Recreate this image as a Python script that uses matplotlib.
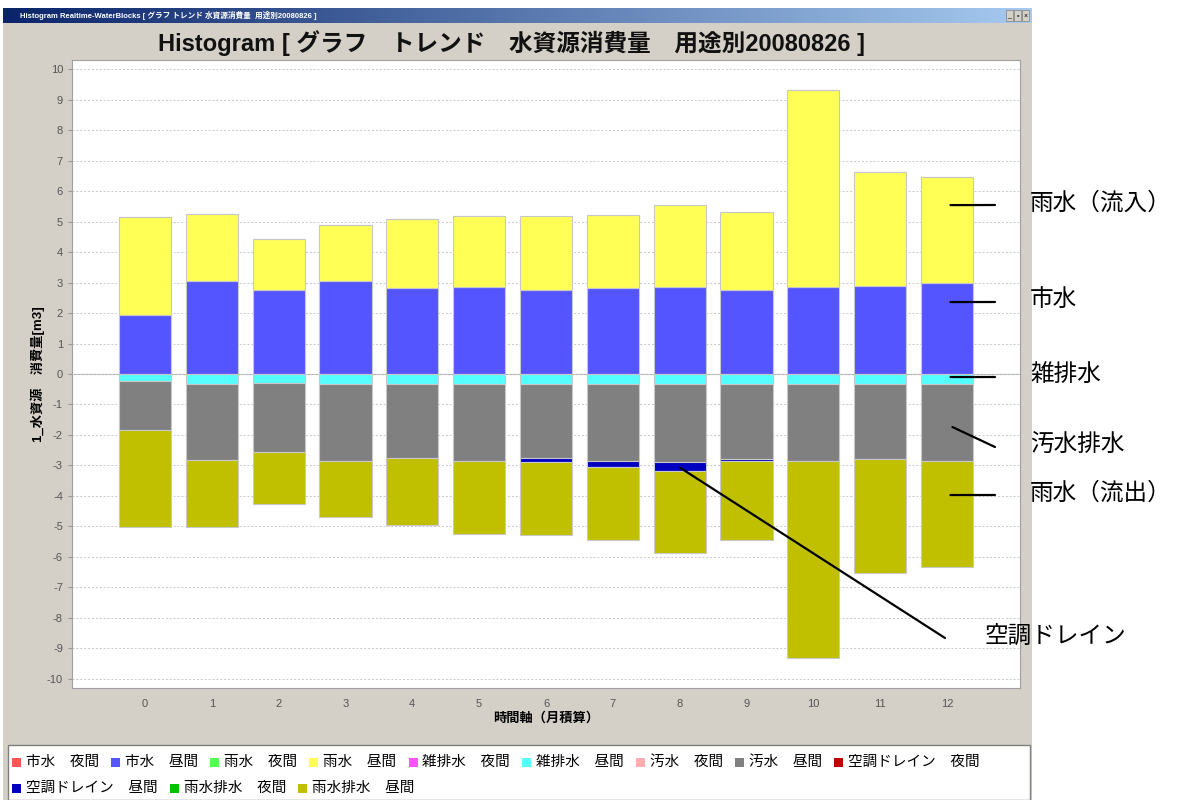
import numpy as np
import matplotlib
matplotlib.use("Agg")
from matplotlib import pyplot as plt
from matplotlib.patches import Rectangle
from matplotlib.colors import LinearSegmentedColormap

plt.rcParams['font.family'] = ['Liberation Sans', 'Noto Sans CJK JP', 'DejaVu Sans']
plt.rcParams['axes.unicode_minus'] = False

W, H = 1192, 800

# ---- data ----
months = list(range(13))
shisui_day = [1.93, 3.05, 2.75, 3.05, 2.83, 2.87, 2.76, 2.83, 2.87, 2.76, 2.85, 2.90, 3.00]       # 市水 昼間
usui_day = [3.22, 2.21, 1.69, 1.85, 2.25, 2.31, 2.42, 2.40, 2.68, 2.57, 6.45, 3.73, 3.46]         # 雨水 昼間
zatsu_day = [-0.23, -0.32, -0.31, -0.32, -0.32, -0.32, -0.32, -0.32, -0.32, -0.32, -0.32, -0.32, -0.32]  # 雑排水 昼間
osui_day = [-1.61, -2.50, -2.24, -2.53, -2.42, -2.53, -2.43, -2.54, -2.57, -2.46, -2.53, -2.48, -2.52]   # 汚水 昼間
aircon_day = [0, 0, 0, 0, 0, 0, -0.15, -0.19, -0.28, -0.06, 0, 0, 0]                               # 空調ドレイン 昼間
rainout_day = [-3.18, -2.20, -1.70, -1.84, -2.20, -2.39, -2.39, -2.38, -2.70, -2.61, -6.46, -3.72, -3.49]  # 雨水排水 昼間

legend_names = ['市水　夜間', '市水　昼間', '雨水　夜間', '雨水　昼間', '雑排水　夜間', '雑排水　昼間',
                '汚水　夜間', '汚水　昼間', '空調ドレイン　夜間', '空調ドレイン　昼間',
                '雨水排水　夜間', '雨水排水　昼間']
legend_colors = ['#ff5555', '#5555ff', '#55ff55', '#ffff55', '#ff55ff', '#55ffff',
                 '#ffafaf', '#808080', '#c00000', '#0000c0', '#00c000', '#c0c000']

plotted = [(shisui_day, '#5555ff'), (usui_day, '#ffff55'), (zatsu_day, '#55ffff'),
           (osui_day, '#808080'), (aircon_day, '#0000c0'), (rainout_day, '#c0c000')]

notes = ['雨水（流入）', '市水', '雑排水', '汚水排水', '雨水（流出）', '空調ドレイン']

fig = plt.figure(figsize=(W / 100, H / 100), dpi=100)
fig.patch.set_facecolor('white')

# window background
win = Rectangle((3 / W, 0), (1032 - 3) / W, 1 - 8 / H, transform=fig.transFigure,
                facecolor='#d4d0c8', edgecolor='none', zorder=-10)
fig.patches.append(win)

# title bar gradient
tb = fig.add_axes([3 / W, 1 - 23 / H, (1032 - 3) / W, 15 / H])
cmap = LinearSegmentedColormap.from_list('tb', ['#0a246a', '#a6caf0'])
tb.imshow(np.linspace(0, 1, 256).reshape(1, -1), aspect='auto', cmap=cmap)
tb.axis('off')
fig.text(20 / W, 1 - 16 / H, 'Histogram Realtime-WaterBlocks [ グラフ トレンド 水資源消費量  用途別20080826 ]',
         color='white', fontsize=5.5, fontweight='bold', va='center')
for bx, s in zip([1013, 1021, 1029], ['_', '▫', '×']):
    fig.patches.append(Rectangle(((bx - 7) / W, 1 - 21 / H), 7 / W, 11 / H, transform=fig.transFigure,
                                 facecolor='#d4d0c8', edgecolor='#808080', lw=0.5, zorder=3))
    fig.text((bx - 3.5) / W, 1 - 16 / H, s, fontsize=5, ha='center', va='center', zorder=4)

fig.text(512 / W, 1 - 43 / H, 'Histogram [ グラフ　トレンド　水資源消費量　用途別20080826 ]',
         fontsize=17, fontweight='bold', ha='center', va='center', color='#111111')

# ---- main chart ----
ax = fig.add_axes([72 / W, (800 - 688) / H, (1020 - 72) / W, (688 - 60) / H])
ax.set_facecolor('white')

pos_base = np.zeros(len(months))
neg_base = np.zeros(len(months))
for vals, col in plotted:
    v = np.array(vals, dtype=float)
    base = np.where(v >= 0, pos_base, neg_base)
    ax.bar(months, v, bottom=base, width=0.78, color=col, edgecolor='#c8c8c8', linewidth=0.8, zorder=3)
    pos_base += np.where(v >= 0, v, 0)
    neg_base += np.where(v < 0, v, 0)

ax.set_xlim(-1.09, 13.09)
ax.set_ylim(-10.3, 10.3)
ax.set_xticks(months)
ax.set_yticks(range(-10, 11))
ax.tick_params(axis='x', length=0, pad=8, labelsize=8, labelcolor='#555555')
ax.tick_params(axis='y', length=3, color='#999999', labelsize=8, labelcolor='#555555')
ax.yaxis.grid(True, color='#c8c8c8', linestyle=(0, (2, 2)), linewidth=0.7, zorder=0)
ax.axhline(0, color='#b0b0b0', lw=0.8, zorder=1)
for sp in ax.spines.values():
    sp.set_color('#a0a0a0')
ax.set_xlabel('時間軸（月積算）', fontsize=9.5, fontweight='bold', labelpad=2)
ax.set_ylabel('1_水資源　消費量[m3]', fontsize=9.5, fontweight='bold', labelpad=1)

# ---- callouts ----
line_kw = dict(arrowstyle='-', color='black', lw=1.6, shrinkA=0, shrinkB=0)
starts = [(12.05, 5.54), (12.05, 2.36), (12.05, -0.1), (12.08, -1.74), (12.05, -3.97), (8.01, -3.08)]
ends = [(995, 205), (995, 302), (995, 377), (995, 447), (995, 495), (945, 638)]
label_pos = [(1030, 203), (1030, 300), (1030, 375), (1030, 445), (1030, 493), (985, 637)]
for (sx, sy), (ex, ey), (lx, ly), txt in zip(starts, ends, label_pos, notes):
    ax.annotate('', xy=(sx, sy), xycoords='data', xytext=(ex / W, 1 - ey / H),
                textcoords='figure fraction', arrowprops=line_kw, annotation_clip=False, zorder=6)
    fig.text(lx / W, 1 - ly / H, txt, fontsize=17, va='center', ha='left')

# ---- legend panel ----
fig.patches.append(Rectangle((8 / W, 0), (1030 - 8) / W, (800 - 745) / H, transform=fig.transFigure,
                             facecolor='white', edgecolor='#808080', lw=1, zorder=-5))
fig.canvas.draw()
r = fig.canvas.get_renderer()
x, y = 12, 762
for i, (name, col) in enumerate(zip(legend_names, legend_colors)):
    if i == 9:
        x, y = 12, 788
    fig.patches.append(Rectangle((x / W, 1 - (y + 4.5) / H), 9 / W, 9 / H, transform=fig.transFigure,
                                 facecolor=col, edgecolor='none', zorder=2))
    t = fig.text((x + 14) / W, 1 - y / H, name, fontsize=10.5, va='center', ha='left', zorder=2)
    x += 14 + t.get_window_extent(renderer=r).width + 12

fig.savefig('out.png', dpi=100)
